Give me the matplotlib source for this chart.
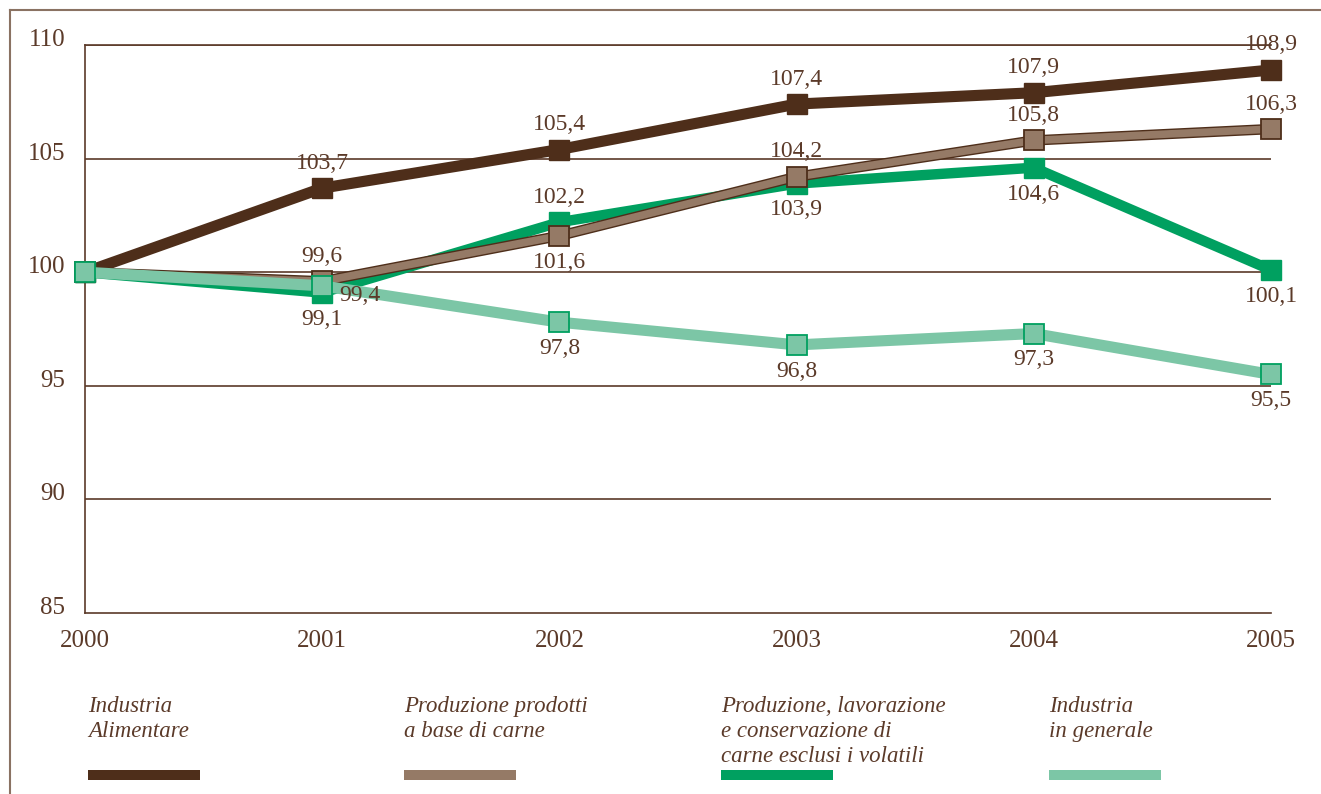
import numpy as np
import matplotlib.pyplot as plt
from matplotlib.lines import Line2D
from matplotlib.transforms import offset_copy

# Data =========================================================

years = [2000, 2001, 2002, 2003, 2004, 2005]
alimentare = [100, 103.7, 105.4, 107.4, 107.9, 108.9]
prodotti_carne = [100, 99.6, 101.6, 104.2, 105.8, 106.3]
carne_no_volatili = [100, 99.1, 102.2, 103.9, 104.6, 100.1]
industria_gen = [100, 99.4, 97.8, 96.8, 97.3, 95.5]

yticks = [85, 90, 95, 100, 105, 110]

labels = ["Industria\nAlimentare",
          "Produzione prodotti\na base di carne",
          "Produzione, lavorazione\ne conservazione di\ncarne esclusi i volatili",
          "Industria\nin generale"]

# label position for each point: "a" above, "b" below, "r" right-below
pos_alimentare = ["", "a", "a", "a", "a", "a"]
pos_prodotti = ["", "a", "b", "a", "a", "a"]
pos_carne = ["", "b", "a", "b", "b", "b"]
pos_gen = ["", "r", "b", "b", "b", "b"]

# Style ========================================================

txt = "#5b3a29"
c_dark = "#4e2e1a"
c_brown = "#957a66"
c_green = "#00a060"
c_light = "#7cc6a6"
plt.rcParams['font.family'] = ['Liberation Serif', 'DejaVu Serif']

fig = plt.figure(figsize=(13.21, 7.94), dpi=100)
ax = fig.add_axes([85 / 1321, 1 - 613 / 794, 1186 / 1321, 568 / 794])

# frame around the chart
fig.add_artist(Line2D([10 / 1321, 10 / 1321], [0, 1 - 10 / 794], transform=fig.transFigure,
                      color="#8a7262", lw=1.5))
fig.add_artist(Line2D([10 / 1321, 1], [1 - 10 / 794, 1 - 10 / 794], transform=fig.transFigure,
                      color="#8a7262", lw=1.5))

for v in yticks[1:]:
    ax.axhline(v, color=txt, lw=1.2, zorder=0)

ax.plot(years, alimentare, color=c_dark, lw=8, marker="s", ms=15,
        mfc=c_dark, mec=c_dark, zorder=3, clip_on=False)
ax.plot(years, carne_no_volatili, color=c_green, lw=7.5, marker="s", ms=15,
        mfc=c_green, mec=c_green, zorder=4, clip_on=False)
# brown line with a dark outline
ax.plot(years, prodotti_carne, color=c_dark, lw=7.5, zorder=5, clip_on=False)
ax.plot(years, prodotti_carne, color=c_brown, lw=5.5, marker="s", ms=14,
        mfc=c_brown, mec=c_dark, mew=1.3, zorder=5.1, clip_on=False)
ax.plot(years, industria_gen, color=c_light, lw=8, marker="s", ms=15,
        mfc=c_light, mec=c_green, mew=1.3, zorder=6, clip_on=False)


def fmt(v):
    return f"{v:.1f}".replace(".", ",")


offsets = {"a": (0, 18), "b": (0, -19), "r": (27, -7)}
for series, pos in [(alimentare, pos_alimentare), (prodotti_carne, pos_prodotti),
                    (carne_no_volatili, pos_carne), (industria_gen, pos_gen)]:
    for x, y, p in zip(years, series, pos):
        if not p:
            continue
        ax.annotate(fmt(y), (x, y), xytext=offsets[p], textcoords="offset points",
                    ha="center", va="center", fontsize=17, color=txt, zorder=8)

ax.set_xlim(2000, 2005)
ax.set_ylim(85, 110)
ax.set_xticks([])
ax.set_yticks([])
ax.spines["right"].set_visible(False)
for s in ["left", "bottom", "top"]:
    ax.spines[s].set_color(txt)
    ax.spines[s].set_linewidth(1.2)

# tick labels
ylab_tr = offset_copy(ax.get_yaxis_transform(), fig=fig, x=-20, y=5, units="dots")
for v in yticks:
    ax.text(0, v, str(v), transform=ylab_tr, ha="right", va="center",
            fontsize=18, color=txt)
xlab_tr = offset_copy(ax.get_xaxis_transform(), fig=fig, x=0, y=-28, units="dots")
for yr in years:
    ax.text(yr, 0, str(yr), transform=xlab_tr, ha="center", va="center",
            fontsize=18, color=txt)

# legend
leg_x = [88, 404, 721, 1049]
colors = [c_dark, c_brown, c_green, c_light]
for lx, lab, c in zip(leg_x, labels, colors):
    fig.text(lx / 1321, 1 - 696 / 794, lab, ha="left", va="top", fontsize=16.5,
             style="italic", color=txt, linespacing=1.25)
    fig.add_artist(plt.Rectangle((lx / 1321, 1 - 780 / 794), 112 / 1321, 10 / 794,
                                 transform=fig.transFigure, color=c, lw=0))

fig.savefig("out.png", dpi=100)
plt.close(fig)
